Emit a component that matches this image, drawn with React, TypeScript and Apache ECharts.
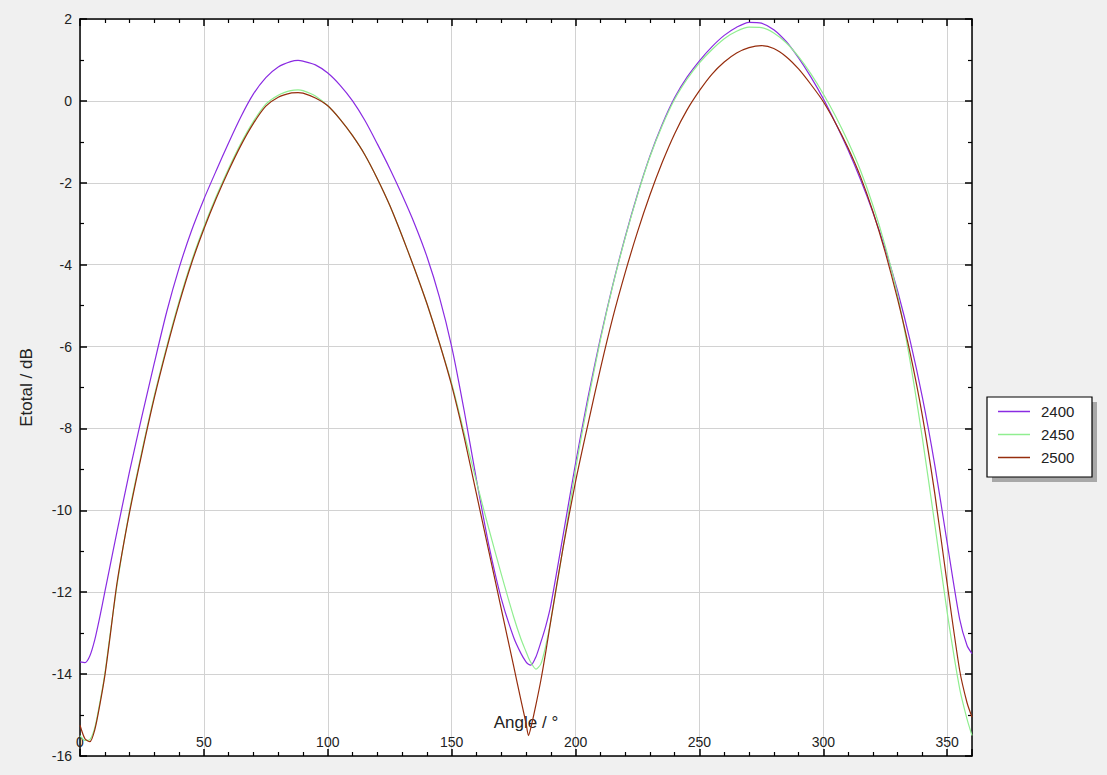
import React, { useEffect, useRef } from "react";
import * as echarts from "echarts";

const angles = [
  0, 2, 4, 6, 8, 10, 12, 15, 20, 25, 30, 35, 40, 45, 50, 55, 60, 65, 70, 75, 80, 85, 88, 90, 95, 100,
  105, 110, 115, 120, 125, 130, 135, 140, 145, 150, 155, 160, 165, 170, 175, 178, 180, 181, 182, 184,
  186, 188, 190, 195, 200, 205, 210, 215, 220, 225, 230, 235, 240, 245, 250, 255, 260, 265, 270, 275,
  280, 285, 290, 295, 300, 305, 310, 315, 320, 325, 330, 335, 340, 345, 350, 355, 358, 360,
];

const s2400 = [
  -13.7, -13.72, -13.55, -13.15, -12.6, -12.0, -11.4, -10.5, -9.05, -7.7, -6.4, -5.15, -4.08, -3.17,
  -2.4, -1.7, -1.02, -0.38, 0.17, 0.57, 0.83, 0.96, 0.99, 0.97, 0.88, 0.68,
  0.38, 0.0, -0.48, -1.05, -1.65, -2.3, -3.0, -3.8, -4.78, -6.0, -7.55, -9.25, -10.85, -12.15, -13.1,
  -13.5, -13.7, -13.76, -13.78, -13.58,
  -13.22, -12.82, -12.32, -10.6, -8.85, -7.25, -5.8, -4.5, -3.33, -2.28, -1.35, -0.57, 0.08, 0.58, 0.98,
  1.32, 1.6, 1.8, 1.92, 1.9,
  1.74, 1.45, 1.05, 0.58, 0.05, -0.55, -1.2, -1.92, -2.72, -3.62, -4.65, -5.85, -7.25, -8.9, -10.8,
  -12.65, -13.3, -13.5,
];

const s2450 = [
  -15.5, -15.62, -15.6, -15.3, -14.7, -14.0, -13.1, -11.8, -10.0, -8.55, -7.2, -6.0, -4.9, -3.92,
  -3.08, -2.33, -1.65, -1.03, -0.5, -0.08, 0.14, 0.25, 0.27, 0.25, 0.12, -0.12,
  -0.45, -0.85, -1.32, -1.9, -2.55, -3.3, -4.1, -4.95, -5.9, -6.9, -8.1, -9.3, -10.45, -11.55, -12.6,
  -13.15, -13.45, -13.6, -13.72, -13.88,
  -13.75, -13.3, -12.7, -10.9, -9.0, -7.35, -5.85, -4.52, -3.35, -2.3, -1.37, -0.6, 0.04, 0.53, 0.93,
  1.25, 1.52, 1.7, 1.8, 1.79,
  1.66, 1.42, 1.08, 0.66, 0.17, -0.38, -1.0, -1.7, -2.55, -3.55, -4.75, -6.35, -8.25, -10.35, -12.5,
  -14.35, -15.1, -15.5,
];

const s2500 = [
  -15.25, -15.58, -15.65, -15.35, -14.75, -14.05, -13.15, -11.75, -10.05, -8.6, -7.25, -6.05, -4.95,
  -3.97, -3.13, -2.38, -1.7, -1.08, -0.55, -0.13, 0.09, 0.19, 0.2, 0.19, 0.07, -0.12,
  -0.45, -0.85, -1.32, -1.9, -2.55, -3.3, -4.1, -4.95, -5.9, -6.95, -8.2, -9.6, -11.0, -12.4, -13.8,
  -14.65, -15.2, -15.5, -15.3, -14.75,
  -14.15, -13.45, -12.7, -10.9, -9.3, -7.9, -6.55, -5.3, -4.2, -3.2, -2.3, -1.5, -0.8, -0.22, 0.25,
  0.65, 0.95, 1.17, 1.3, 1.35,
  1.28, 1.08, 0.78, 0.4, -0.02, -0.55, -1.15, -1.85, -2.7, -3.7, -4.85, -6.15, -7.7, -9.6, -11.8,
  -13.9, -14.7, -15.05,
];

const seriesNames = ["2400", "2450", "2500"];
const seriesValues = [s2400, s2450, s2500];
const seriesColors = ["#8A2BE2", "#90EE90", "#962D0D"];

const FONT = "Liberation Sans, Arial, sans-serif";

export default function App() {
  const ref = useRef<HTMLDivElement>(null);

  useEffect(() => {
    if (!ref.current) return;
    const chart = echarts.init(ref.current, undefined, { renderer: "svg" });

    const commonTick = {
      show: true,
      inside: true,
      length: 7,
      lineStyle: { color: "#000", width: 1.5 },
    };
    const commonMinor = {
      show: true,
      length: 4,
      lineStyle: { color: "#000", width: 1.2 },
    };
    const axisLine = { show: true, onZero: false, lineStyle: { color: "#000", width: 1.5 } };

    const option: any = {
      animation: false,
      backgroundColor: "#f0f0f0",
      textStyle: { fontFamily: FONT },
      grid: {
        left: 80,
        top: 19,
        right: 135,
        bottom: 19,
        show: true,
        backgroundColor: "#ffffff",
        borderWidth: 0,
      },
      legend: {
        orient: "vertical",
        left: 998,
        top: 404,
        padding: 0,
        itemWidth: 32,
        itemHeight: 1.5,
        itemGap: 8,
        icon: "rect",
        textStyle: { fontFamily: FONT, fontSize: 15, color: "#222", padding: [0, 0, 0, 6] },
        data: seriesNames,
      },
      graphic: [
        {
          type: "rect",
          z: -1,
          shape: { x: 992, y: 402, width: 105, height: 80 },
          style: { fill: "#a8a8a8" },
        },
        {
          type: "rect",
          z: 0,
          shape: { x: 987, y: 397, width: 105, height: 80 },
          style: { fill: "#ffffff", stroke: "#000", lineWidth: 1.2 },
        },
      ],
      xAxis: [
        {
          type: "value",
          min: 0,
          max: 360,
          interval: 50,
          position: "bottom",
          name: "Angle / °",
          nameLocation: "middle",
          nameGap: -42,
          nameMoveOverlap: false,
          nameTextStyle: { fontFamily: FONT, fontSize: 17, color: "#222" },
          axisLine,
          axisTick: commonTick,
          minorTick: { ...commonMinor, splitNumber: 5 },
          axisLabel: {
            inside: true,
            margin: 7,
            showMaxLabel: false,
            fontFamily: FONT,
            fontSize: 14,
            color: "#222",
          },
          splitLine: { show: true, lineStyle: { color: "#d2d2d2", width: 1 } },
        },
        {
          type: "value",
          min: 0,
          max: 360,
          interval: 50,
          position: "top",
          axisLine,
          axisTick: commonTick,
          minorTick: { ...commonMinor, splitNumber: 5 },
          axisLabel: { show: false },
          splitLine: { show: false },
        },
      ],
      yAxis: [
        {
          type: "value",
          min: -16,
          max: 2,
          interval: 2,
          position: "left",
          name: "Etotal / dB",
          nameLocation: "middle",
          nameGap: 45,
          nameMoveOverlap: false,
          nameRotate: 90,
          nameTextStyle: { fontFamily: FONT, fontSize: 17, color: "#222" },
          axisLine,
          axisTick: commonTick,
          minorTick: { ...commonMinor, splitNumber: 2 },
          axisLabel: { margin: 8, fontFamily: FONT, fontSize: 14, color: "#222" },
          splitLine: { show: true, lineStyle: { color: "#d2d2d2", width: 1 } },
        },
        {
          type: "value",
          min: -16,
          max: 2,
          interval: 2,
          position: "right",
          axisLine,
          axisTick: commonTick,
          minorTick: { ...commonMinor, splitNumber: 2 },
          axisLabel: { show: false },
          splitLine: { show: false },
        },
      ],
      series: seriesNames.map((name, i) => ({
        name,
        type: "line",
        xAxisIndex: 0,
        yAxisIndex: 0,
        showSymbol: false,
        symbol: "none",
        smooth: 0.25,
        color: seriesColors[i],
        lineStyle: { color: seriesColors[i], width: 1.2 },
        data: angles.map((a, j) => [a, seriesValues[i][j]]),
      })),
    };

    chart.setOption(option);
    return () => chart.dispose();
  }, []);

  return (
    <div
      ref={ref}
      style={{ position: "fixed", left: 0, top: 0, width: 1107, height: 775 }}
    />
  );
}
